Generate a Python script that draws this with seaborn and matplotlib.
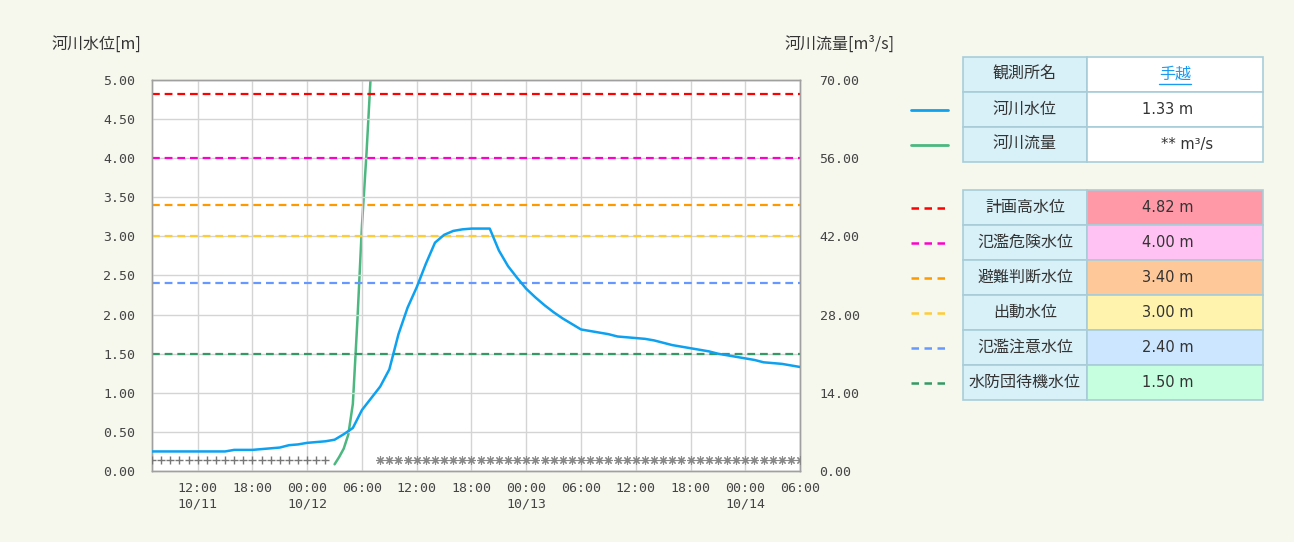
import numpy as np
import pandas as pd
import matplotlib
matplotlib.use("Agg")
import matplotlib.pyplot as plt
from matplotlib.patches import Rectangle
import seaborn as sns

# hours counted from 10/11 00:00
level_hours = list(range(7, 79))
level_m = [0.25, 0.25, 0.25, 0.25, 0.25, 0.25, 0.25, 0.25, 0.25, 0.27,
           0.27, 0.27, 0.28, 0.29, 0.30, 0.33, 0.34, 0.36, 0.37, 0.38,
           0.40, 0.47, 0.55, 0.78, 0.93, 1.08, 1.30, 1.75, 2.09, 2.35,
           2.65, 2.92, 3.02, 3.07, 3.09, 3.10, 3.10, 3.10, 2.82, 2.62,
           2.47, 2.33, 2.22, 2.12, 2.03, 1.95, 1.88, 1.81, 1.79, 1.77,
           1.75, 1.72, 1.71, 1.70, 1.69, 1.67, 1.64, 1.61, 1.59, 1.57,
           1.55, 1.53, 1.50, 1.48, 1.46, 1.44, 1.42, 1.39, 1.38, 1.37,
           1.35, 1.33]

flow_hours = [27.0, 27.5, 28.0, 28.5, 29.0, 29.5, 30.0, 30.5, 31.0]
flow_m3s = [1.2, 2.5, 4.0, 6.5, 12.0, 27.0, 44.0, 57.0, 72.0]

plus_hours = list(range(7, 27))
star_hours = list(range(32, 79))

tick_hours = [12, 18, 24, 30, 36, 42, 48, 54, 60, 66, 72, 78]
tick_labels = ["12:00\n10/11", "18:00", "00:00\n10/12", "06:00", "12:00", "18:00",
               "00:00\n10/13", "06:00", "12:00", "18:00", "00:00\n10/14", "06:00"]

thr_names = ["計画高水位", "氾濫危険水位", "避難判断水位", "出動水位", "氾濫注意水位", "水防団待機水位"]
thr_values = [4.82, 4.00, 3.40, 3.00, 2.40, 1.50]
thr_colors = ["#ff0000", "#ff00cc", "#ff9900", "#ffcc33", "#6699ff", "#339966"]
thr_fills = ["#ff99a8", "#ffc2f2", "#ffc899", "#fff3ad", "#cce6ff", "#c6ffe0"]

station = "手越"
current_level = "1.33 m"
current_flow = "** m³/s"

sns.set_style("white")
plt.rcParams['font.family'] = ['Noto Sans CJK JP', 'DejaVu Sans']

bg = "#f6f8ee"
fig = plt.figure(figsize=(12.94, 5.42), dpi=100, facecolor=bg)
ax = fig.add_axes([0.1175, 0.131, 0.5008, 0.7214])
ax2 = ax.twinx()

for v, c in zip(thr_values, thr_colors):
    ax.axhline(v, color=c, lw=1.6, ls=(0, (3.5, 2.2)), zorder=2)

df_level = pd.DataFrame({"hour": level_hours, "level": level_m})
sns.lineplot(data=df_level, x="hour", y="level", ax=ax, color="#0ea1f0", lw=1.8, zorder=4)

ax.plot(plus_hours, [0.14] * len(plus_hours), ls="none", marker="+", ms=6, mew=1,
        color="#777777", zorder=3)
ax.plot(star_hours, [0.14] * len(star_hours), ls="none", marker=(8, 2, 0), ms=6, mew=0.8,
        color="#888888", zorder=3)

df_flow = pd.DataFrame({"hour": flow_hours, "flow": flow_m3s})
sns.lineplot(data=df_flow, x="hour", y="flow", ax=ax2, color="#4cb77f", lw=1.8, zorder=5)

ax.set_xlim(7, 78)
ax.set_ylim(0, 5)
ax2.set_ylim(0, 70)
ax.set_xticks(tick_hours)
ax.set_xticklabels(tick_labels)
ax.set_yticks(np.arange(0, 5.01, 0.5))
ax.set_yticklabels([f"{v:.2f}" for v in np.arange(0, 5.01, 0.5)])
ax2.set_yticks(np.arange(0, 70.1, 14))
ax2.set_yticklabels([f"{v:.2f}" for v in np.arange(0, 70.1, 14)])
ax.set_xlabel("")
ax.set_ylabel("")
ax2.set_ylabel("")
ax.grid(True, color="#d4d4d4", lw=1, zorder=0)
ax.set_axisbelow(True)
for a in (ax, ax2):
    for s in a.spines.values():
        s.set_color("#a0a0a0")
        s.set_linewidth(1)
    a.tick_params(length=0, labelsize=9.5, labelcolor="#444444")
for lab in ax.get_xticklabels() + ax.get_yticklabels() + ax2.get_yticklabels():
    lab.set_family("DejaVu Sans Mono")
ax.tick_params(axis="x", pad=8)
ax.tick_params(axis="y", pad=12)
ax2.tick_params(axis="y", pad=14)
ax.set_zorder(ax2.get_zorder() + 1)
ax.patch.set_visible(False)
ax2.set_facecolor("white")
ax2.patch.set_visible(True)

fig.text(52 / 1294, 1 - 44 / 542, "河川水位[m]", fontsize=11.5, color="#333333", va="center")
fig.text(785 / 1294, 1 - 44 / 542, "河川流量[m³/s]", fontsize=11.5, color="#333333", va="center")

# right-hand info tables, drawn in pixel coords
ov = fig.add_axes([0, 0, 1, 1])
ov.set_xlim(0, 1294)
ov.set_ylim(542, 0)
ov.axis("off")
ov.patch.set_visible(False)

border = "#a8cdd8"
head = "#d8f0f8"
x0, x1, x2 = 963, 1087, 1263
rh = 35
val_x = 1168
val_font = ["DejaVu Sans", "Noto Sans CJK JP"]


def cell(x, y, w, h, fc):
    ov.add_patch(Rectangle((x, y), w, h, facecolor=fc, edgecolor=border, lw=1.2))


top_rows = [("観測所名", station), ("河川水位", current_level), ("河川流量", current_flow)]
for i, (k, v) in enumerate(top_rows):
    y = 57 + i * rh
    cell(x0, y, x1 - x0, rh, head)
    cell(x1, y, x2 - x1, rh, "white")
    ov.text((x0 + x1) / 2, y + rh / 2, k, ha="center", va="center", fontsize=11.5, color="#333333")
    if i == 0:
        ov.text(1175, y + rh / 2, v, ha="center", va="center", fontsize=11.5, color="#1a9bf0")
    else:
        vx = val_x if i == 1 else 1187
        ov.text(vx, y + rh / 2, v, ha="center", va="center", fontsize=10.5, color="#333333",
                family=val_font)
ov.plot([1159, 1191], [84, 84], color="#1a9bf0", lw=1)

ov.plot([911, 948], [110, 110], color="#0ea1f0", lw=2)
ov.plot([911, 948], [145, 145], color="#4cb77f", lw=2)

for i, (n, v, c, f) in enumerate(zip(thr_names, thr_values, thr_colors, thr_fills)):
    y = 190 + i * rh
    cell(x0, y, x1 - x0, rh, head)
    cell(x1, y, x2 - x1, rh, f)
    ov.text((x0 + x1) / 2, y + rh / 2, n, ha="center", va="center", fontsize=11.5, color="#333333")
    ov.text(val_x, y + rh / 2, f"{v:.2f} m", ha="center", va="center", fontsize=10.5,
            color="#333333", family=val_font)
    ov.plot([911, 948], [y + rh / 2, y + rh / 2], color=c, lw=1.8, ls=(0, (3, 2.2)))

fig.savefig("out.png", dpi=100, facecolor=bg)
